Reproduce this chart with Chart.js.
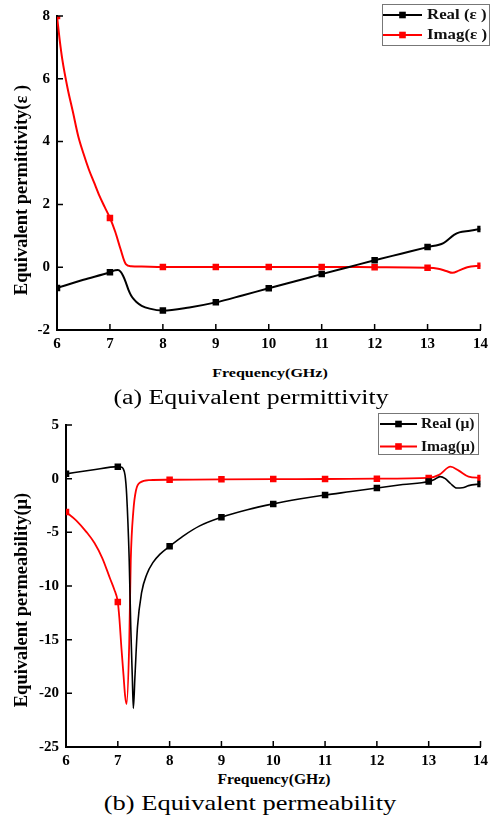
<!DOCTYPE html>
<html>
<head>
<meta charset="utf-8">
<script src="https://cdn.jsdelivr.net/npm/chart.js@4.4.1/dist/chart.umd.min.js"></script>
<style>
  html, body { margin: 0; padding: 0; background: #fff; }
  #page { position: relative; width: 493px; height: 823px; overflow: hidden;
          font-family: 'Liberation Serif', 'Times New Roman', serif; color: #000; }
  #page canvas { position: absolute; left: 0; }
  .lbl { position: absolute; white-space: nowrap; line-height: 1; }
  .bold { font-weight: bold; }
</style>
</head>
<body>
<div id="page">
  <canvas id="epsChart" width="493" height="360" style="top:0;width:493px;height:360px"></canvas>
  <canvas id="muChart" width="493" height="372" style="top:400px;width:493px;height:372px"></canvas>

  <div class="lbl bold" style="left:21px;top:190px;font-size:18.5px;transform:translate(-50%,-50%) rotate(-90deg)">Equivalent permittivity(ε )</div>
  <div class="lbl bold" style="left:270px;top:365.7px;font-size:13.5px;transform:translateX(-50%) scaleX(1.19)">Frequency(GHz)</div>
  <div class="lbl" style="left:251px;top:387.3px;font-size:20px;transform:translateX(-50%) scaleX(1.29)">(a) Equivalent permittivity</div>

  <div class="lbl bold" style="left:21px;top:600px;font-size:18.5px;transform:translate(-50%,-50%) rotate(-90deg)">Equivalent permeability(μ)</div>
  <div class="lbl bold" style="left:274px;top:773.3px;font-size:14px;transform:translateX(-50%) scaleX(1.12)">Frequency(GHz)</div>
  <div class="lbl" style="left:250px;top:793.4px;font-size:21px;transform:translateX(-50%) scaleX(1.26)">(b) Equivalent permeability</div>
</div>

<script>
// ---- Equivalent permittivity (ε) vs frequency (GHz) ----
const freqEpsReal = [6, 6.5, 7, 7.1, 7.15, 7.2, 7.25, 7.3, 7.35, 7.4, 7.45, 7.5, 7.6, 7.75, 8, 8.5, 9, 9.5, 10, 10.5, 11, 11.5, 12, 12.5, 13, 13.3, 13.5, 13.6, 13.8, 14];
const epsReal     = [-0.66, -0.4, -0.16, -0.1, -0.09, -0.14, -0.28, -0.48, -0.72, -0.9, -1.02, -1.11, -1.23, -1.32, -1.38, -1.28, -1.12, -0.9, -0.67, -0.45, -0.22, 0.0, 0.22, 0.43, 0.64, 0.77, 1.03, 1.11, 1.16, 1.22];

const freqEpsImag = [6, 6.05, 6.1, 6.2, 6.3, 6.4, 6.5, 6.6, 6.7, 6.8, 6.9, 7, 7.1, 7.2, 7.3, 7.4, 7.6, 8, 9, 10, 11, 12, 13, 13.2, 13.35, 13.47, 13.6, 13.75, 14];
const epsImag     = [8.0, 7.25, 6.62, 5.7, 4.95, 4.18, 3.62, 3.12, 2.7, 2.28, 1.92, 1.57, 1.13, 0.58, 0.1, 0.03, 0.02, 0.01, 0.01, 0.01, 0.01, 0.0, -0.02, -0.05, -0.12, -0.18, -0.1, 0.0, 0.05];

// ---- Equivalent permeability (μ) vs frequency (GHz) ----
const freqMuReal = [6, 6.5, 7, 7.05, 7.1, 7.14, 7.17, 7.22, 7.25, 7.28, 7.3, 7.33, 7.38, 7.46, 7.56, 7.68, 7.81, 8, 8.26, 8.58, 9, 9.5, 10, 10.5, 11, 11.5, 12, 12.5, 13, 13.1, 13.22, 13.32, 13.42, 13.54, 13.65, 13.77, 14];
const muReal     = [0.45, 0.8, 1.12, 1.1, 0.95, 0.3, -1.43, -7.6, -13.8, -18.5, -21.4, -18.5, -13.8, -10.6, -8.9, -7.8, -7.05, -6.3, -5.35, -4.4, -3.6, -2.9, -2.35, -1.9, -1.52, -1.2, -0.87, -0.55, -0.27, -0.1, 0.19, 0.0, -0.45, -0.87, -0.85, -0.65, -0.49];

const freqMuImag = [6, 6.2, 6.4, 6.55, 6.7, 6.85, 6.93, 7, 7.03, 7.07, 7.11, 7.14, 7.17, 7.22, 7.25, 7.3, 7.35, 7.43, 7.62, 8, 9, 10, 11, 12, 13, 13.2, 13.42, 13.58, 13.77, 14];
const muImag     = [-3.1, -3.9, -5.0, -6.0, -7.4, -9.3, -10.3, -11.5, -13.0, -15.8, -18.3, -20.2, -21.0, -15.4, -7.6, -3.0, -1.1, -0.35, -0.13, -0.1, -0.06, -0.04, -0.03, 0.0, 0.07, 0.35, 1.12, 0.75, 0.19, 0.07];

// Tick values
const freqTicks = [6, 7, 8, 9, 10, 11, 12, 13, 14];
const epsTicks = [-2, 0, 2, 4, 6, 8];
const muTicks = [-25, -20, -15, -10, -5, 0, 5];

const FONT = "'Liberation Serif', 'Times New Roman', serif";
Chart.defaults.font.family = FONT;
Chart.defaults.color = '#000';

const toPoints = (xs, ys) => xs.map((x, i) => ({ x, y: ys[i] }));

// square markers only on whole-GHz samples
const markerRadius = ctx => (ctx.raw && Number.isInteger(ctx.raw.x)) ? 4.6 : 0;

function series(label, xs, ys, color, width) {
  return {
    label,
    data: toPoints(xs, ys),
    borderColor: color,
    backgroundColor: color,
    pointBackgroundColor: color,
    pointBorderWidth: 0,
    borderWidth: width,
    pointStyle: 'rect',
    pointRadius: markerRadius,
    pointHoverRadius: markerRadius,
    cubicInterpolationMode: 'monotone',
    fill: false
  };
}

// short tick marks pointing into the plot area
const inwardTicks = {
  id: 'inwardTicks',
  afterDraw(chart) {
    const { ctx, chartArea } = chart;
    const len = 6;
    ctx.save();
    ctx.strokeStyle = '#000';
    ctx.lineWidth = 1.5;
    ctx.beginPath();
    const xs = chart.scales.x, ys = chart.scales.y;
    xs.ticks.forEach(t => {
      const p = xs.getPixelForValue(t.value);
      ctx.moveTo(p, chartArea.bottom);
      ctx.lineTo(p, chartArea.bottom - len);
    });
    ys.ticks.forEach(t => {
      const p = ys.getPixelForValue(t.value);
      ctx.moveTo(chartArea.left, p);
      ctx.lineTo(chartArea.left + len, p);
    });
    ctx.stroke();
    ctx.restore();
  }
};

// framed legend: line sample with a square marker, then the series name
const boxLegend = {
  id: 'boxLegend',
  afterDatasetsDraw(chart, args, o) {
    const ctx = chart.ctx;
    ctx.save();
    ctx.strokeStyle = '#777';
    ctx.lineWidth = 1;
    ctx.strokeRect(o.left + 0.5, o.top + 0.5, o.width, o.height);
    ctx.font = 'bold ' + o.fontSize + 'px ' + FONT;
    const dsets = chart.data.datasets;
    const widest = Math.max(...dsets.map(d => ctx.measureText(d.label).width));
    const sx = (o.left + o.width - o.gap - o.textX) / widest;
    dsets.forEach((ds, i) => {
      const y = o.rows[i];
      ctx.strokeStyle = ds.borderColor;
      ctx.lineWidth = 2;
      ctx.beginPath();
      ctx.moveTo(o.lineX0, y);
      ctx.lineTo(o.lineX1, y);
      ctx.stroke();
      ctx.fillStyle = ds.borderColor;
      const m = (o.lineX0 + o.lineX1) / 2;
      ctx.fillRect(m - 3.3, y - 3.3, 6.6, 6.6);
      ctx.save();
      ctx.translate(o.textX, y);
      ctx.scale(sx, 1);
      ctx.fillStyle = '#111';
      ctx.textBaseline = 'middle';
      ctx.fillText(ds.label, 0, 0.5);
      ctx.restore();
    });
    ctx.restore();
  }
};

function makeChart(id, datasets, yMin, yMax, yTickVals, yWidth, xHeight, pad, legendOpts) {
  return new Chart(document.getElementById(id), {
    type: 'line',
    data: { datasets },
    options: {
      responsive: false,
      maintainAspectRatio: false,
      devicePixelRatio: 1,
      animation: false,
      events: [],
      layout: { padding: pad },
      plugins: {
        legend: { display: false },
        tooltip: { enabled: false },
        boxLegend: legendOpts
      },
      scales: {
        x: {
          type: 'linear',
          min: freqTicks[0],
          max: freqTicks[freqTicks.length - 1],
          afterBuildTicks: s => { s.ticks = freqTicks.map(v => ({ value: v })); },
          afterFit: s => { s.height = xHeight; },
          grid: { display: true, drawOnChartArea: false, drawTicks: false },
          border: { display: true, color: '#000', width: 2 },
          ticks: { padding: 5, maxRotation: 0, autoSkip: false,
                   font: { size: 15, weight: 'bold' }, color: '#000' }
        },
        y: {
          type: 'linear',
          min: yMin,
          max: yMax,
          afterBuildTicks: s => { s.ticks = yTickVals.map(v => ({ value: v })); },
          afterFit: s => { s.width = yWidth; },
          grid: { display: true, drawOnChartArea: false, drawTicks: false },
          border: { display: true, color: '#000', width: 2 },
          ticks: { padding: 7, autoSkip: false,
                   font: { size: 15, weight: 'bold' }, color: '#000' }
        }
      }
    },
    plugins: [inwardTicks, boxLegend]
  });
}

makeChart('epsChart', [
    series('Real (ε )', freqEpsReal, epsReal, '#000000', 2),
    series('Imag(ε )', freqEpsImag, epsImag, '#ff0000', 2)
  ],
  -2, 8, epsTicks, 57, 30,
  { left: 0, top: 12, right: 10, bottom: 0 },
  { left: 382, top: 4, width: 107, height: 41, rows: [15, 35],
    lineX0: 383, lineX1: 422, textX: 427, gap: 2, fontSize: 14 }
);

makeChart('muChart', [
    series('Real (μ)', freqMuReal, muReal, '#000000', 1.6),
    series('Imag(μ)', freqMuImag, muImag, '#ff0000', 1.8)
  ],
  -25, 5, muTicks, 66, 25,
  { left: 0, top: 25, right: 11, bottom: 0 },
  { left: 378, top: 13, width: 100, height: 41, rows: [24, 46.5],
    lineX0: 380, lineX1: 417, textX: 421, gap: 3, fontSize: 14 }
);
</script>
</body>
</html>
